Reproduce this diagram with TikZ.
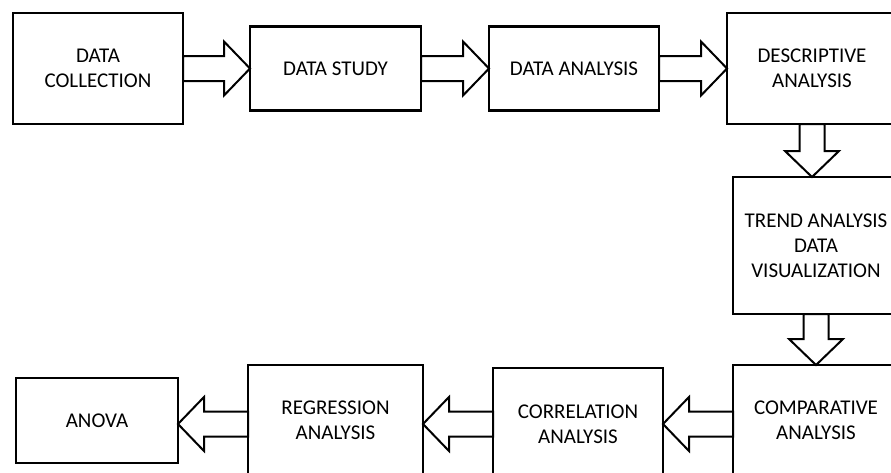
\documentclass[tikz,border=0pt]{standalone}
\usepackage{fontspec}
\setmainfont{Carlito}
\usetikzlibrary{positioning,calc}

\begin{document}
\begin{tikzpicture}[x=1pt,y=-1pt,
  box/.style={draw,line width=2.4pt,outer sep=0pt,align=center,
    font=\fontsize{21}{25}\selectfont},
  % hollow block arrow from the start point to the target point
  fat/.style={draw,fill=white,line width=2pt,line join=miter,
    to path={let \p1=(\tikztostart), \p2=(\tikztotarget),
      \n1={atan2(\y2-\y1,\x2-\x1)}, \n2={veclen(\x2-\x1,\y2-\y1)-26}
      in (\p1) ++(\n1+90:12.5pt) -- ++(\n1:\n2) -- ++(\n1+90:14.5pt) -- (\p2)
      -- ($(\p1)+(\n1:\n2)+(\n1-90:27pt)$) -- ++(\n1+90:14.5pt)
      -- ++(\n1:-\n2) -- cycle}}]
  \useasboundingbox (0,0) rectangle (891,472);
  \clip (0,0) rectangle (891,472);

  % top row
  \node[box,minimum width=170,minimum height=111] (dc) at (98,68.5) {DATA\\COLLECTION};
  \node[box,minimum width=171,minimum height=84] (ds) [right=67pt of dc] {DATA STUDY};
  \node[box,minimum width=170,minimum height=84] (da) [right=68pt of ds] {DATA ANALYSIS};
  \node[box,minimum width=170,minimum height=111] (desc) [right=68pt of da] {DESCRIPTIVE\\ANALYSIS};

  % right column
  \node[box,minimum width=166,minimum height=137,xshift=4pt] (trend) [below=53pt of desc]
    {TREND ANALYSIS\\DATA\\VISUALIZATION};
  \node[box,minimum width=166,minimum height=110] (cmp) [below=51pt of trend] {COMPARATIVE\\ANALYSIS};

  % bottom row, right to left
  \node[box,minimum width=170,minimum height=112,yshift=-4pt] (corr) [left=70pt of cmp] {CORRELATION\\ANALYSIS};
  \node[box,minimum width=175,minimum height=111,yshift=3.5pt] (reg) [left=70pt of corr] {REGRESSION\\ANALYSIS};
  \node[box,minimum width=162,minimum height=85] (anova) [left=70pt of reg] {ANOVA};

  \path (dc.east) edge[fat] (ds.west)
  (ds.east) edge[fat] (da.west)
  (da.east) edge[fat] (desc.west)
  (desc.south) edge[fat] (desc.south |- trend.north)
  (trend.south) edge[fat] (cmp.north)
  (cmp.west |- corr.east) edge[fat] (corr.east)
  (corr.west) edge[fat] (corr.west -| reg.east)
  (reg.west |- corr.west) edge[fat] (anova.east |- corr.west)
            ;
\end{tikzpicture}
\end{document}
